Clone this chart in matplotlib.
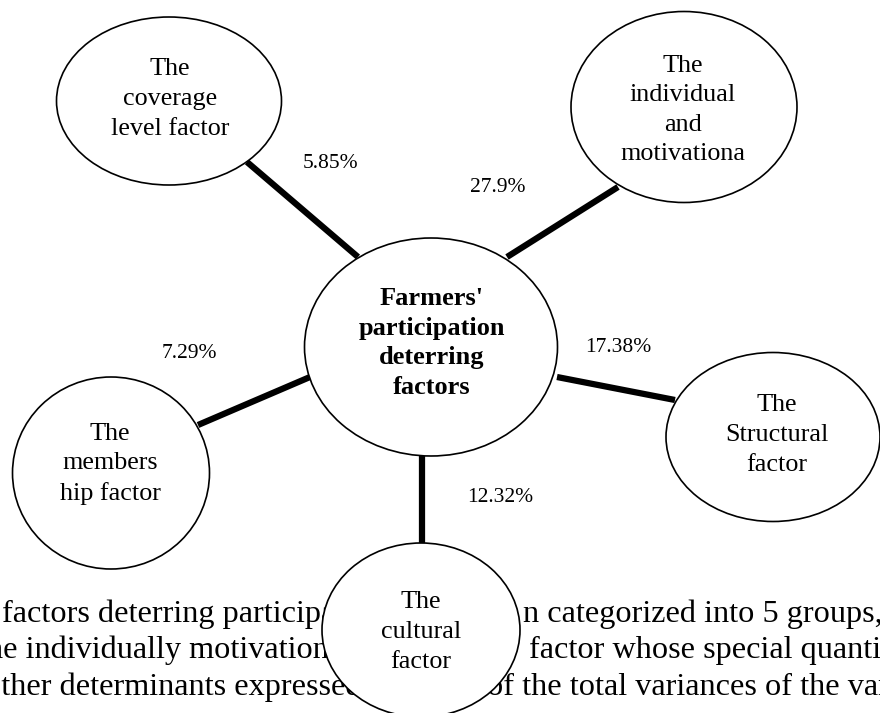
import matplotlib
matplotlib.use("Agg")
import matplotlib.pyplot as plt
from matplotlib.patches import Ellipse

# ---- data ----
center_label = "Farmers'\nparticipation\ndeterring\nfactors"
factor_labels = [
    "The\ncoverage\nlevel factor",
    "The\nindividual\nand\nmotivationa",
    "The\nStructural\nfactor",
    "The\ncultural\nfactor",
    "The\nmembers\nhip factor",
]
factor_shares = ["5.85%", "27.9%", "17.38%", "12.32%", "7.29%"]

body_left = [
    "factors deterring participation have",
    "the individually motivational",
    "other determinants expressed",
]
body_right = [
    "n categorized into 5 groups,",
    "factor whose special quantitative",
    "of the total variances of the variables",
]

# ---- layout (pixel coordinates) ----
W, H = 880, 713
center_pos = (431, 347)
center_size = (253, 218)
node_pos = [(169, 101), (684, 107), (773, 437), (421, 630), (111, 473)]
node_size = [(225, 168), (226, 191), (214, 169), (198, 174), (197, 192)]
node_text_pos = [(170, 99), (683, 110), (777, 435), (421, 632), (110, 464)]
line_ends = [((358, 257), (247, 162)),
             ((507, 257), (618, 187)),
             ((557, 377), (675, 400)),
             ((422, 452), (422, 547)),
             ((310, 377), (198, 425))]
share_pos = [(330, 163), (498, 187), (618, 347), (500, 497), (189, 353)]
body_left_x = [2, -22, -15]
body_right_x = [523, 529, 487]
body_y = [622, 658, 695]

FONT = ["Liberation Serif", "DejaVu Serif"]

fig = plt.figure(figsize=(W / 100, H / 100), dpi=100)
ax = fig.add_axes([0, 0, 1, 1])
ax.set_xlim(0, W)
ax.set_ylim(H, 0)
ax.axis("off")

# body text (behind the bottom ellipse)
for txt, x, y in zip(body_left, body_left_x, body_y):
    ax.text(x, y, txt, fontsize=23.2, family=FONT, ha="left", va="baseline", zorder=1)
for txt, x, y in zip(body_right, body_right_x, body_y):
    ax.text(x, y, txt, fontsize=23.2, family=FONT, ha="left", va="baseline", zorder=1)

# connectors
for (p0, p1) in line_ends:
    ax.plot([p0[0], p1[0]], [p0[1], p1[1]], color="black", lw=4.5,
            solid_capstyle="butt", zorder=2)

# center ellipse
ax.add_patch(Ellipse(center_pos, center_size[0], center_size[1], facecolor="white",
                     edgecolor="black", lw=1.2, zorder=3))
ax.text(center_pos[0] + 1, 343, center_label, fontsize=19, fontweight="bold",
        family=FONT, ha="center", va="center", linespacing=1.36, zorder=4)

# factor ellipses
for lab, pos, size, tpos in zip(factor_labels, node_pos, node_size, node_text_pos):
    ax.add_patch(Ellipse(pos, size[0], size[1], facecolor="white",
                         edgecolor="black", lw=1.2, zorder=3))
    ax.text(tpos[0], tpos[1], lab, fontsize=18.8, family=FONT, ha="center",
            va="center", linespacing=1.45, zorder=4)

# percentages
for s, pos in zip(factor_shares, share_pos):
    ax.text(pos[0], pos[1], s, fontsize=15.5, family=FONT, ha="center",
            va="center", zorder=4)

fig.savefig("out.png", dpi=100)
